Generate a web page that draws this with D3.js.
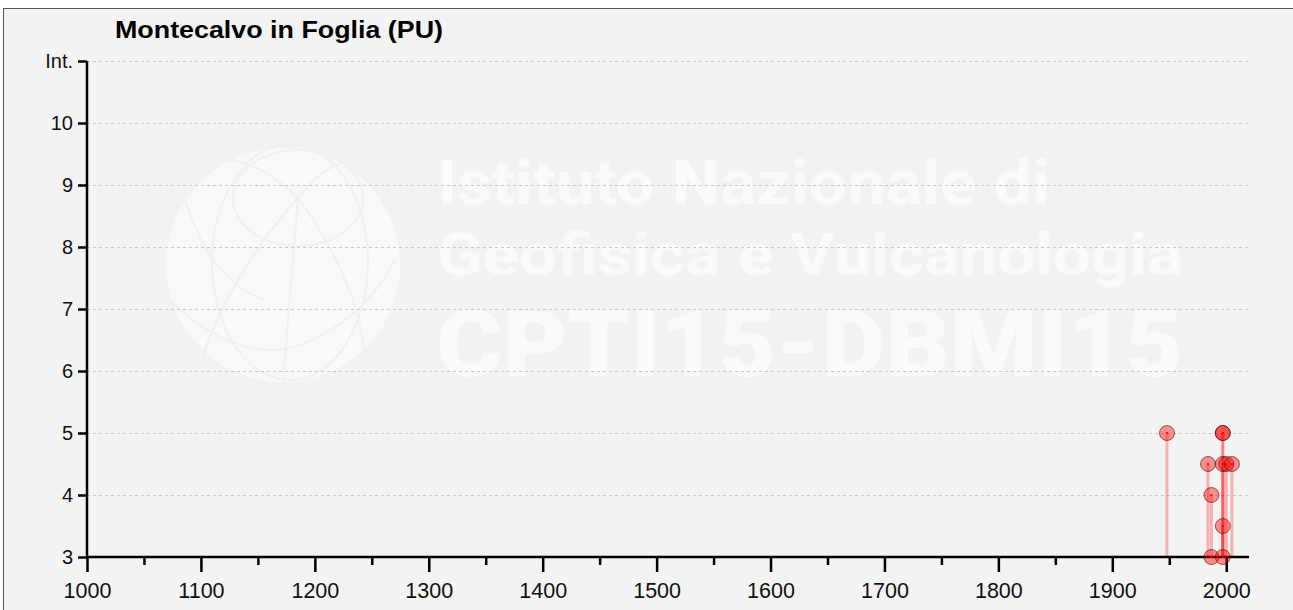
<!DOCTYPE html>
<html>
<head>
<meta charset="utf-8">
<script src="https://cdn.jsdelivr.net/npm/d3@7"></script>
<style>
  body { margin: 0; background: #fff; }
  svg { display: block; }
</style>
</head>
<body>
<svg id="chart" width="1293" height="610"></svg>
<script>
// earthquake effects at Montecalvo in Foglia (year, intensity)
var years = [1948, 1984, 1987, 1987, 1997, 1997, 1997, 1997, 1997, 2000, 2005];
var intensities = [5, 4.5, 4, 3, 5, 5, 4.5, 3.5, 3, 4.5, 4.5];
var yTicks = [3, 4, 5, 6, 7, 8, 9, 10, 11];
var yTickLabels = ["3", "4", "5", "6", "7", "8", "9", "10", "Int."];
var xTicks = [1000, 1100, 1200, 1300, 1400, 1500, 1600, 1700, 1800, 1900, 2000];
var xMinorTicks = [1050, 1150, 1250, 1350, 1450, 1550, 1650, 1750, 1850, 1950];
var title = "Montecalvo in Foglia (PU)";
var wmLines = ["Istituto Nazionale di", "Geofisica e Vulcanologia", "CPTI15-DBMI15"];

var width = 1293, height = 610;
var margin = {top: 61, right: 44, bottom: 53, left: 87};
var svg = d3.select('#chart');

// panel
svg.append('rect')
  .attr('x', 3.5).attr('y', 8.5)
  .attr('width', width).attr('height', height)
  .attr('fill', '#f3f3f3')
  .attr('stroke', '#555')
  .attr('stroke-width', 1);

// watermark
var wm = svg.append('g').attr('class', 'watermark');
wm.append('circle').attr('cx', 283).attr('cy', 265).attr('r', 117).attr('fill', '#f9f9f9');
var gl = wm.append('g').attr('fill', 'none').attr('stroke', '#f1f1f1').attr('stroke-width', 2);
gl.append('ellipse').attr('cx', 298).attr('cy', 198).attr('rx', 65).attr('ry', 48);
gl.append('ellipse').attr('cx', 290).attr('cy', 262).attr('rx', 78).attr('ry', 118);
gl.append('path').attr('d', 'M298,198 L283,382 M298,198 C260,240 220,300 200,365 M298,198 C330,240 360,300 365,355 M298,198 C270,170 240,155 200,160 M298,198 C320,170 345,150 380,170');
gl.append('path').attr('d', 'M170,300 C210,340 260,360 300,345 C340,330 375,300 395,260');
gl.append('path').attr('d', 'M185,200 C200,250 230,290 265,300');
var wmY = [204, 275, 376], wmW = [613, 746, 746], wmSize = [62, 60, 92];
wmLines.forEach(function(t, i) {
  wm.append('text')
    .attr('x', 437).attr('y', wmY[i])
    .attr('textLength', wmW[i])
    .attr('lengthAdjust', 'spacingAndGlyphs')
    .style('font-family', 'Roboto, sans-serif')
    .style('font-weight', i == 2 ? 900 : 700)
    .style('font-size', wmSize[i] + 'px')
    .attr('fill', '#fafafa')
    .text(t);
});

var x = d3.scaleLinear()
  .domain([1000, 2020])
  .range([margin.left, width - margin.right]);

var y = d3.scaleLinear()
  .domain([3, 11])
  .range([height - margin.bottom, margin.top]);

// grid
svg.append('g').selectAll('line')
  .data(yTicks.slice(1))
  .enter().append('line')
  .attr('x1', x(1000)).attr('x2', x(2020))
  .attr('y1', function(d) { return Math.round(y(d)) + 0.5; })
  .attr('y2', function(d) { return Math.round(y(d)) + 0.5; })
  .attr('stroke', '#c8c8c8')
  .attr('stroke-dasharray', '3,3');

// stems
svg.append('g').selectAll('line')
  .data(years)
  .enter().append('line')
  .attr('x1', function(d) { return x(d); })
  .attr('x2', function(d) { return x(d); })
  .attr('y1', function(d, i) { return y(intensities[i]); })
  .attr('y2', y(3))
  .attr('stroke', 'rgba(255,0,0,0.27)')
  .attr('stroke-width', 3);

// x axis
var xAxis = svg.append('g')
  .attr('transform', 'translate(0,' + y(3) + ')')
  .style('font-family', 'Arial, "Liberation Sans", sans-serif')
  .style('font-size', '21.5px')
  .call(d3.axisBottom(x).tickValues(xTicks).tickSize(15).tickPadding(11).tickFormat(d3.format('d')));
xAxis.select('.domain').attr('stroke', '#000').attr('stroke-width', 2.5).attr('d', 'M' + x(1000) + ',0H' + x(2020));
xAxis.selectAll('.tick line').attr('stroke-width', 2.5);
xAxis.selectAll('.tick text').attr('fill', '#111');
var xMinor = svg.append('g')
  .attr('transform', 'translate(0,' + y(3) + ')')
  .call(d3.axisBottom(x).tickValues(xMinorTicks).tickSize(8).tickFormat(''));
xMinor.select('.domain').remove();
xMinor.selectAll('.tick line').attr('stroke-width', 2.5);

// y axis
var yAxis = svg.append('g')
  .attr('transform', 'translate(' + x(1000) + ',0)')
  .style('font-family', 'Arial, "Liberation Sans", sans-serif')
  .style('font-size', '20px')
  .call(d3.axisLeft(y).tickValues(yTicks).tickSize(9).tickPadding(5)
    .tickFormat(function(d, i) { return yTickLabels[i]; }));
yAxis.select('.domain').attr('stroke', '#000').attr('stroke-width', 2.5).attr('d', 'M0,' + y(3) + 'V' + y(11));
yAxis.selectAll('.tick line').attr('stroke-width', 2.5);
yAxis.selectAll('.tick text').attr('fill', '#111');

// points
var pts = svg.append('g');
pts.selectAll('circle.pt')
  .data(years)
  .enter().append('circle')
  .attr('class', 'pt')
  .attr('cx', function(d) { return x(d); })
  .attr('cy', function(d, i) { return y(intensities[i]); })
  .attr('r', 7.5)
  .attr('fill', 'rgba(255,0,0,0.42)')
  .attr('stroke', 'rgba(60,0,0,0.55)')
  .attr('stroke-width', 1);
pts.selectAll('circle.dot')
  .data(years)
  .enter().append('circle')
  .attr('class', 'dot')
  .attr('cx', function(d) { return x(d); })
  .attr('cy', function(d, i) { return y(intensities[i]); })
  .attr('r', 1)
  .attr('fill', '#e00');

// title
svg.append('text')
  .attr('x', 115).attr('y', 38)
  .style('font-family', 'Arial, "Liberation Sans", sans-serif')
  .style('font-weight', 'bold')
  .style('font-size', '24px')
  .attr('textLength', 328)
  .attr('lengthAdjust', 'spacingAndGlyphs')
  .text(title);
</script>
</body>
</html>
